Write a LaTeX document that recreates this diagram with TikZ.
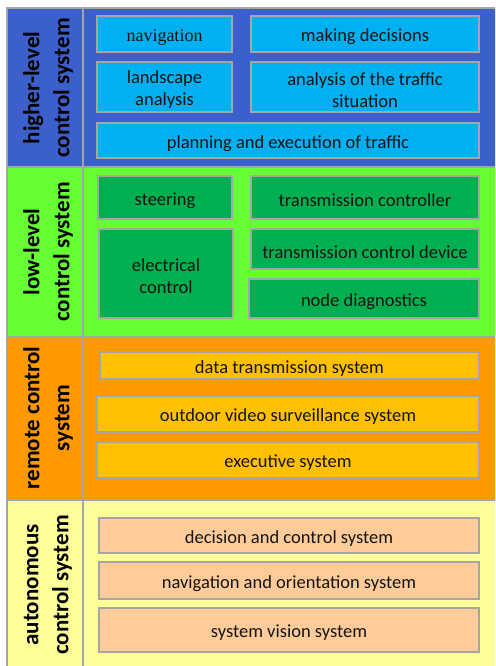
\documentclass[tikz,border=0pt]{standalone}
\usepackage{fontspec}
\setmainfont{Carlito}
\newfontfamily\serifface{Liberation Serif}
\definecolor{bandblue}{RGB}{59,96,204}
\definecolor{boxblue}{RGB}{0,176,240}
\definecolor{bandgreen}{RGB}{102,255,51}
\definecolor{boxgreen}{RGB}{0,176,80}
\definecolor{bandorange}{RGB}{255,153,0}
\definecolor{boxorange}{RGB}{255,192,0}
\definecolor{bandyellow}{RGB}{255,255,153}
\definecolor{boxpeach}{RGB}{255,204,153}
\definecolor{rim}{RGB}{165,165,165}
\definecolor{ink}{RGB}{20,20,20}
\tikzset{
  band/.style={draw=rim, line width=2.5pt},
  cellbox/.style={draw=rim, line width=2.7pt, rectangle, inner sep=0pt},
  celltext/.style={align=center, inner sep=0pt, text=ink,
    font=\fontsize{18.5}{22}\selectfont},
  lvl/.style={rotate=90, align=center, text=black, inner sep=0pt,
    font=\bfseries\fontsize{23}{30}\selectfont}
}
% \cell{name}{fill}{cx}{cy}{width}{height}{text}: a framed box with its caption
\newcommand{\cell}[8][]{%
  \node[cellbox, fill=#3, minimum width=#6, minimum height=#7] (#2) at (#4,#5) {};
  \node[celltext, #1] (#2-t) at ([yshift=-3pt]#2.center) {#8};
}
\begin{document}
\begin{tikzpicture}[x=1pt,y=-1pt]
\useasboundingbox (0,0) rectangle (495,666);
\begin{scope}
\clip (0,0) rectangle (495,666);
% bands: label column and content area
\fill[bandblue]   (7,8) rectangle (500,167);
\fill[bandgreen]  (7,167) rectangle (500,337);
\fill[bandorange] (7,337) rectangle (500,500);
\fill[bandyellow] (7,500) rectangle (500,670);
\foreach \ya/\yb in {8/167,167/337,337/500,500/670}{
  \draw[band] (7,\ya) rectangle (83,\yb);
  \draw[band] (83,\ya) rectangle (500,\yb);
}
\end{scope}

% higher-level control system
\node[lvl] (hl) at (48,88) {higher-level\\control system};
\cell[font=\serifface\fontsize{18}{22}\selectfont]{nav}{boxblue}{164.5}{34}{135}{36}{navigation}
\cell{dec}{boxblue}{365}{34}{228}{36}{making decisions}
\cell{land}{boxblue}{164.5}{87}{135}{50}{landscape\\analysis}
\cell{traf}{boxblue}{365}{87}{228}{50}{analysis of the traffic\\situation}
\cell{plan}{boxblue}{288}{140.5}{382}{35}{planning and execution of traffic}

% low-level control system
\node[lvl] (ll) at (48,252) {low-level\\control system};
\cell{steer}{boxgreen}{165}{197.5}{134}{43}{steering}
\cell{elec}{boxgreen}{166}{273.5}{134}{89}{electrical\\control}
\cell{tctl}{boxgreen}{365}{197.5}{228}{43}{transmission controller}
\cell{tdev}{boxgreen}{365}{249}{228}{40}{transmission control device}
\cell{diag}{boxgreen}{364}{298.5}{230}{39}{node diagnostics}

% remote control system
\node[lvl] (rc) at (48,418) {remote control\\system};
\cell{data}{boxorange}{289.5}{365.5}{379}{27}{data transmission system}
\cell{video}{boxorange}{288}{414}{382}{36}{outdoor video surveillance system}
\cell{exec}{boxorange}{288}{460}{382}{36}{executive system}

% autonomous control system
\node[lvl] (ac) at (48,585) {autonomous\\control system};
\cell{dcs}{boxpeach}{289}{535.5}{380}{35}{decision and control system}
\cell{nos}{boxpeach}{289}{580.5}{380}{37}{navigation and orientation system}
\cell{svs}{boxpeach}{289}{630}{380}{44}{system vision system}
\end{tikzpicture}
\end{document}
